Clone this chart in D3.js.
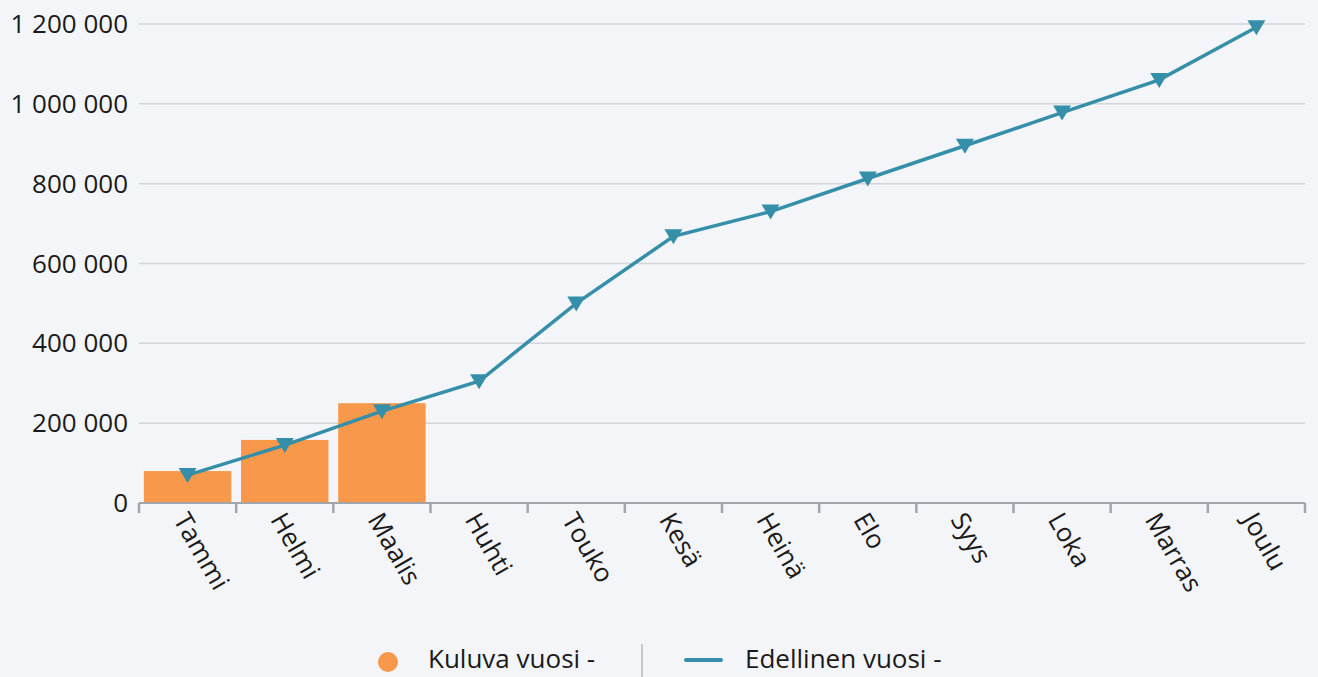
<!DOCTYPE html>
<html>
<head>
<meta charset="utf-8">
<script src="https://cdn.jsdelivr.net/npm/d3@7"></script>
<style>
  body { margin: 0; background: #f4f5f9; }
  svg { display: block; font-family: "Open Sans", "Noto Sans", sans-serif; }
</style>
</head>
<body>
<svg id="chart" width="1318" height="677"></svg>
<script>
var months = ["Tammi", "Helmi", "Maalis", "Huhti", "Touko", "Kesä", "Heinä", "Elo", "Syys", "Loka", "Marras", "Joulu"];
var currentYear = [80000, 158000, 250000];
var previousYear = [70000, 145000, 230000, 305000, 500000, 668000, 730000, 813000, 895000, 978000, 1060000, 1192000];
var yTicks = [0, 200000, 400000, 600000, 800000, 1000000, 1200000];

var margin = {top: 24, right: 13, bottom: 174, left: 139},
    width = 1318 - margin.left - margin.right,
    height = 677 - margin.top - margin.bottom;

var fs = 26;

var svg = d3.select("#chart");
var g = svg.append("g").attr("transform", "translate(" + margin.left + "," + margin.top + ")");

var x = d3.scaleBand().domain(months).range([0, width]).paddingInner(0.1).paddingOuter(0.05);
var xc = d3.scaleBand().domain(months).range([0, width]);
var y = d3.scaleLinear().domain([0, 1200000]).range([height, 0]);

var fmt = function(d) { return d3.format(",")(d).replace(/,/g, " "); };

// gridlines
g.selectAll(".grid").data(yTicks.slice(1)).enter().append("line")
    .attr("x1", 0).attr("x2", width)
    .attr("y1", function(d) { return y(d); }).attr("y2", function(d) { return y(d); })
    .attr("stroke", "#d4d5da").attr("stroke-width", 1.5);

// y labels
g.selectAll(".ylab").data(yTicks).enter().append("text")
    .attr("x", -11).attr("y", function(d) { return y(d); })
    .attr("dy", "0.35em").attr("text-anchor", "end")
    .attr("font-size", fs).attr("fill", "#1a1a1a")
    .text(fmt);

// bars
g.selectAll(".bar").data(currentYear).enter().append("rect")
    .attr("x", function(d, i) { return x(months[i]); })
    .attr("width", x.bandwidth())
    .attr("y", function(d) { return y(d); })
    .attr("height", function(d) { return height - y(d); })
    .attr("fill", "#f7984a");

// x axis
var xAxis = g.append("g").attr("transform", "translate(0," + height + ")");
xAxis.append("line").attr("x1", 0).attr("x2", width).attr("stroke", "#a3a5ab").attr("stroke-width", 2);
var tickPos = d3.range(months.length + 1).map(function(i) { return i * xc.step(); });
xAxis.selectAll(".tick").data(tickPos).enter().append("line")
    .attr("x1", function(d) { return d; }).attr("x2", function(d) { return d; })
    .attr("y1", 0).attr("y2", 10)
    .attr("stroke", "#a3a5ab").attr("stroke-width", 2.5);
xAxis.selectAll(".xlab").data(months).enter().append("text")
    .attr("transform", function(d) {
      return "translate(" + (xc(d) + xc.bandwidth() / 2 - 7) + ",12) rotate(60)";
    })
    .attr("dy", "0.35em")
    .attr("font-size", fs).attr("fill", "#1a1a1a")
    .text(function(d) { return d; });

// line
var line = d3.line()
    .x(function(d, i) { return xc(months[i]) + xc.bandwidth() / 2; })
    .y(function(d) { return y(d); });
g.append("path").datum(previousYear)
    .attr("d", line).attr("fill", "none")
    .attr("stroke", "#358fa8").attr("stroke-width", 3.5);

var tri = "M-9,-7 L9,-7 L0,8 Z";
g.selectAll(".mk").data(previousYear).enter().append("path")
    .attr("transform", function(d, i) {
      return "translate(" + (xc(months[i]) + xc.bandwidth() / 2) + "," + y(d) + ")";
    })
    .attr("d", tri).attr("fill", "#358fa8");

// legend
var lg = svg.append("g");
lg.append("circle").attr("cx", 388).attr("cy", 662).attr("r", 10).attr("fill", "#f7984a");
lg.append("text").attr("x", 428).attr("y", 668)
    .attr("font-size", fs).attr("fill", "#1a1a1a").text("Kuluva vuosi -");
lg.append("line").attr("x1", 642).attr("x2", 642).attr("y1", 644).attr("y2", 677)
    .attr("stroke", "#c8c9cc").attr("stroke-width", 2);
lg.append("line").attr("x1", 686).attr("x2", 721).attr("y1", 660).attr("y2", 660)
    .attr("stroke", "#358fa8").attr("stroke-width", 4).attr("stroke-linecap", "round");
lg.append("text").attr("x", 745).attr("y", 668)
    .attr("font-size", fs).attr("fill", "#1a1a1a").text("Edellinen vuosi -");
</script>
</body>
</html>
